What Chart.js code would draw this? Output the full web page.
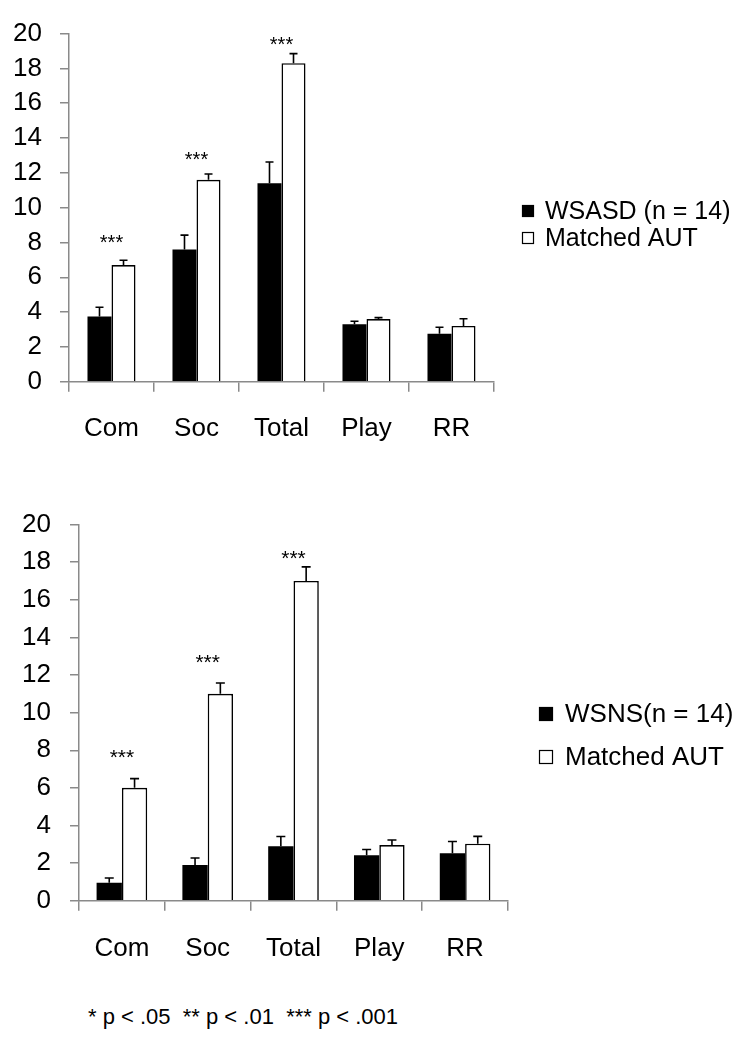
<!DOCTYPE html>
<html>
<head>
<meta charset="utf-8">
<script src="https://cdn.jsdelivr.net/npm/chart.js@4/dist/chart.umd.min.js"></script>
<style>
  html, body { margin: 0; padding: 0; background: #fff; }
  body { width: 742px; height: 1050px; position: relative; overflow: hidden; font-family: "Liberation Sans", Arial, sans-serif; }
  .panel { position: absolute; left: 0; width: 742px; }
  #foot { position: absolute; left: 88px; top: 1004px; font-size: 22px; white-space: pre; color: #000; }
</style>
</head>
<body>
<div class="panel" style="top:0;height:470px"><canvas id="chartTop"></canvas></div>
<div class="panel" style="top:490px;height:500px"><canvas id="chartBottom"></canvas></div>
<div id="foot"></div>
<script>
// ---------- data ----------
const categories = ['Com', 'Soc', 'Total', 'Play', 'RR'];
const yMin = 0, yMax = 20, yStep = 2;

const wsasdLabel = 'WSASD (n = 14)';
const wsasdMeans  = [3.75, 7.6, 11.4, 3.3, 2.75];
const wsasdErrors = [0.53, 0.82, 1.22, 0.17, 0.38];
const autTopLabel = 'Matched AUT';
const autTopMeans  = [6.7, 11.6, 18.3, 3.6, 3.2];
const autTopErrors = [0.28, 0.33, 0.55, 0.08, 0.42];

const wsnsLabel = 'WSNS(n = 14)';
const wsnsMeans  = [0.95, 1.9, 2.9, 2.42, 2.52];
const wsnsErrors = [0.26, 0.37, 0.51, 0.3, 0.63];
const autBottomLabel = 'Matched AUT';
const autBottomMeans  = [6.0, 11.0, 17.0, 2.96, 3.03];
const autBottomErrors = [0.49, 0.58, 0.75, 0.27, 0.39];

const sigLabels = ['***', '***', '***', '', ''];
const sigTopLevels = [8.26, 13.05, 19.64, null, null];
const sigBottomLevels = [7.92, 12.96, 18.47, null, null];

const footnoteText = '* p < .05  ** p < .01  *** p < .001';

// ---------- plugins ----------
const FONT = '"Liberation Sans", Arial, sans-serif';
const AXIS_GRAY = '#8a8a8a';

const decorations = {
  id: 'decorations',
  afterDatasetsDraw(chart, args, opts) {
    const ctx = chart.ctx;
    const yScale = chart.scales.y;
    const xScale = chart.scales.x;
    ctx.save();
    ctx.strokeStyle = '#000';
    ctx.lineWidth = 1.6;
    chart.data.datasets.forEach((ds, i) => {
      const meta = chart.getDatasetMeta(i);
      meta.data.forEach((bar, j) => {
        const y0 = yScale.getPixelForValue(ds.data[j]);
        const y1 = yScale.getPixelForValue(ds.data[j] + ds.errors[j]);
        ctx.beginPath();
        ctx.moveTo(bar.x, y0);
        ctx.lineTo(bar.x, y1);
        ctx.moveTo(bar.x - opts.cap, y1);
        ctx.lineTo(bar.x + opts.cap, y1);
        ctx.stroke();
      });
    });
    // significance markers
    ctx.fillStyle = '#000';
    ctx.font = opts.sigFont + 'px ' + FONT;
    ctx.textAlign = 'center';
    ctx.textBaseline = 'middle';
    opts.sigLevels.forEach((lvl, j) => {
      if (lvl == null || !opts.sigLabels[j]) return;
      const x = xScale.getPixelForValue(j);
      const y = yScale.getPixelForValue(lvl);
      ctx.fillText(opts.sigLabels[j], x, y + opts.sigFont * 0.3);
    });
    ctx.restore();
  },
  afterDraw(chart, args, opts) {
    const ctx = chart.ctx;
    ctx.save();
    ctx.font = opts.legendFont + 'px ' + FONT;
    ctx.textAlign = 'left';
    ctx.textBaseline = 'middle';
    chart.data.datasets.forEach((ds, i) => {
      const cy = opts.legendRows[i];
      const s = opts.box;
      ctx.fillStyle = ds.backgroundColor;
      ctx.fillRect(opts.boxX, cy - s / 2, s, s);
      ctx.strokeStyle = '#000';
      ctx.lineWidth = 1.2;
      ctx.strokeRect(opts.boxX + 0.5, cy - s / 2 + 0.5, s - 1, s - 1);
      ctx.fillStyle = '#000';
      ctx.fillText(ds.label, opts.textX, cy + 1);
    });
    ctx.restore();
  }
};

function makeChart(id, cfg) {
  const datasets = [
    { label: cfg.labels[0], data: cfg.means[0], errors: cfg.errors[0],
      backgroundColor: '#000', borderColor: '#000', borderWidth: 0 },
    { label: cfg.labels[1], data: cfg.means[1], errors: cfg.errors[1],
      backgroundColor: '#fff', borderColor: '#000', borderWidth: 1.6 }
  ];
  return new Chart(document.getElementById(id), {
    type: 'bar',
    data: { labels: categories, datasets },
    options: {
      responsive: true,
      maintainAspectRatio: false,
      animation: false,
      devicePixelRatio: 1,
      events: [],
      categoryPercentage: cfg.catPct,
      barPercentage: 1.0,
      layout: { padding: cfg.padding },
      plugins: {
        legend: { display: false },
        tooltip: { enabled: false },
        decorations: cfg.deco
      },
      scales: {
        x: {
          grid: { display: true, offset: true, drawOnChartArea: false, drawTicks: true,
                  tickLength: 10, color: AXIS_GRAY, lineWidth: 1.5 },
          border: { display: true, color: AXIS_GRAY, width: 1.5 },
          ticks: { color: '#000', font: { family: FONT, size: cfg.xFont }, padding: cfg.xPad, maxRotation: 0 },
          afterFit(s) { s.height = cfg.xHeight; }
        },
        y: {
          min: yMin, max: yMax,
          grid: { drawOnChartArea: false, drawTicks: true, tickLength: 9, color: AXIS_GRAY, lineWidth: 1.5 },
          border: { display: true, color: AXIS_GRAY, width: 1.5 },
          ticks: { stepSize: yStep, color: '#000', font: { family: FONT, size: cfg.yFont }, padding: cfg.yPad },
          afterFit(s) { s.width = cfg.yWidth; }
        }
      }
    },
    plugins: [decorations]
  });
}

makeChart('chartTop', {
  labels: [wsasdLabel, autTopLabel],
  means: [wsasdMeans, autTopMeans],
  errors: [wsasdErrors, autTopErrors],
  catPct: 0.565,
  padding: { left: 0, top: 26.5, right: 248, bottom: 8.3 },
  xHeight: 80, xFont: 26, xPad: 22,
  yWidth: 69, yFont: 26, yPad: 18,
  deco: { cap: 4, sigFont: 20, sigLabels: sigLabels, sigLevels: sigTopLevels,
          legendFont: 25, legendRows: [211, 238], box: 12, boxX: 522, textX: 545 }
});

makeChart('chartBottom', {
  labels: [wsnsLabel, autBottomLabel],
  means: [wsnsMeans, autBottomMeans],
  errors: [wsnsErrors, autBottomErrors],
  catPct: 0.59,
  padding: { left: 0, top: 30, right: 234, bottom: 9.3 },
  xHeight: 80, xFont: 26, xPad: 23,
  yWidth: 79, yFont: 26, yPad: 19,
  deco: { cap: 4.5, sigFont: 21, sigLabels: sigLabels, sigLevels: sigBottomLevels,
          legendFont: 26, legendRows: [224, 267], box: 14, boxX: 539, textX: 565 }
});

document.getElementById('foot').textContent = footnoteText;
</script>
</body>
</html>
